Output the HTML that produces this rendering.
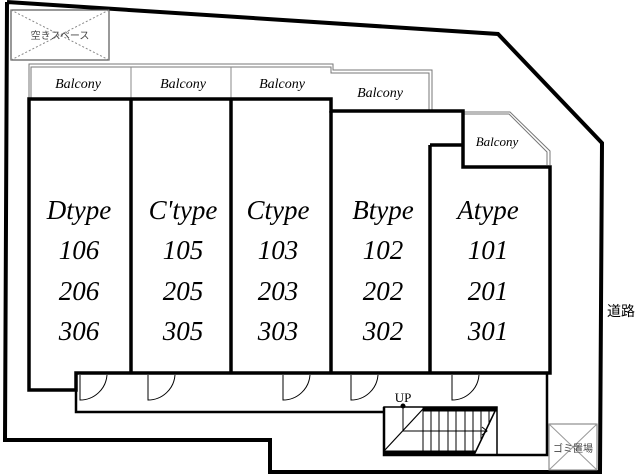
<!DOCTYPE html>
<html><head><meta charset="utf-8"><style>
html,body{margin:0;padding:0;background:#fff;}
svg{display:block;}
.t{font-family:"Liberation Serif",serif;font-style:italic;text-anchor:middle;fill:#000;}
</style></head><body>
<svg width="640" height="475" viewBox="0 0 640 475" xmlns="http://www.w3.org/2000/svg">
<polyline points="7,2 498,34 602,143 600,472 270,472 270,440 5,440 7,2" fill="none" stroke="#000" stroke-width="4"/>
<rect x="11" y="10" width="98" height="50" fill="none" stroke="#555" stroke-width="1.2"/>
<line x1="11" y1="10" x2="109" y2="60" stroke="#888" stroke-dasharray="2,2"/>
<line x1="109" y1="10" x2="11" y2="60" stroke="#888" stroke-dasharray="2,2"/>
<text x="60" y="39" text-anchor="middle" font-family="Liberation Sans,'Noto Sans CJK JP',sans-serif" font-size="10" fill="#444">空きスペース</text>
<path d="M29,99 V64 H333 V70 H432 V111" fill="none" stroke="#777" stroke-width="1"/>
<path d="M31,99 V67 H331 V73 H429 V111" fill="none" stroke="#777" stroke-width="1"/>
<line x1="131" y1="67" x2="131" y2="99" stroke="#888"/>
<line x1="231" y1="67" x2="231" y2="99" stroke="#888"/>
<text class="t" x="78" y="88" font-size="14">Balcony</text>
<text class="t" x="183" y="88" font-size="14">Balcony</text>
<text class="t" x="282" y="88" font-size="14">Balcony</text>
<text class="t" x="380" y="97" font-size="14">Balcony</text>
<path d="M463,112 H510 L550,151 V165" fill="none" stroke="#777"/>
<path d="M463,114 H509 L547,152 V165" fill="none" stroke="#777"/>
<text class="t" x="497" y="146" font-size="13">Balcony</text>
<g fill="none" stroke="#000" stroke-width="3.5">
<path d="M29,99 H331 V111 H463 V167 H550 V373 H76 V390 H29 Z"/>
<path d="M430,145 H463"/>
<line x1="131" y1="99" x2="131" y2="373"/>
<line x1="231" y1="99" x2="231" y2="373"/>
<line x1="331" y1="111" x2="331" y2="373"/>
<line x1="430" y1="145" x2="430" y2="373"/>
</g>
<path d="M76,373 V412 H384 M384,407 V455 H547 V373" fill="none" stroke="#000" stroke-width="2.5"/>
<g fill="none" stroke="#000" stroke-width="1">
<path d="M80,375 V400 A27,27 0 0 0 107,375"/>
<path d="M148,375 V400 A27,27 0 0 0 175,375"/>
<path d="M283,375 V400 A27,27 0 0 0 310,375"/>
<path d="M351,375 V400 A27,27 0 0 0 378,375"/>
<path d="M452,375 V400 A27,27 0 0 0 479,375"/>
</g>
<g stroke="#000" fill="none">
<rect x="384" y="407" width="113" height="48" stroke-width="1.5"/>
<rect x="423" y="407" width="74" height="4" fill="#000"/>
<rect x="384" y="451" width="91" height="4" fill="#000"/>
<line x1="497" y1="407" x2="474" y2="455" stroke-width="1.5"/>
<line x1="423" y1="409" x2="384" y2="451" stroke-width="1.2"/>
<g stroke-width="1">
<line x1="423" y1="411" x2="423" y2="451"/><line x1="431" y1="411" x2="431" y2="451"/>
<line x1="439" y1="411" x2="439" y2="451"/><line x1="448" y1="411" x2="448" y2="451"/>
<line x1="456" y1="411" x2="456" y2="451"/><line x1="465" y1="411" x2="465" y2="451"/>
<line x1="473" y1="411" x2="473" y2="451"/><line x1="481" y1="411" x2="481" y2="441"/>
<line x1="489" y1="411" x2="489" y2="425"/>
<polyline points="403,406 403,431 487,431"/>
<polyline points="482,427 487,431 482,435"/>
</g>
<circle cx="403" cy="406" r="2" fill="#000"/>
</g>
<text x="403" y="402" font-family="Liberation Serif,serif" font-size="13" text-anchor="middle">UP</text>
<rect x="549" y="424" width="48" height="46" fill="none" stroke="#777"/>
<line x1="549" y1="424" x2="597" y2="470" stroke="#999"/>
<line x1="597" y1="424" x2="549" y2="470" stroke="#999"/>
<text x="573" y="452" font-family="Liberation Sans,'Noto Sans CJK JP',sans-serif" font-size="10" text-anchor="middle" fill="#444">ゴミ置場</text>
<text x="621" y="316" font-family="Liberation Sans,'Noto Sans CJK JP',sans-serif" font-size="14" text-anchor="middle">道路</text>
<g class="t" font-size="27">
<text class="t" x="79" y="219">Dtype</text>
<text class="t" x="183" y="219">C'type</text>
<text class="t" x="278" y="219">Ctype</text>
<text class="t" x="383" y="219">Btype</text>
<text class="t" x="488" y="219">Atype</text>
<text class="t" x="79" y="259">106</text><text class="t" x="79" y="300">206</text><text class="t" x="79" y="340">306</text>
<text class="t" x="183" y="259">105</text><text class="t" x="183" y="300">205</text><text class="t" x="183" y="340">305</text>
<text class="t" x="278" y="259">103</text><text class="t" x="278" y="300">203</text><text class="t" x="278" y="340">303</text>
<text class="t" x="383" y="259">102</text><text class="t" x="383" y="300">202</text><text class="t" x="383" y="340">302</text>
<text class="t" x="488" y="259">101</text><text class="t" x="488" y="300">201</text><text class="t" x="488" y="340">301</text>
</g>
</svg>
</body></html>
